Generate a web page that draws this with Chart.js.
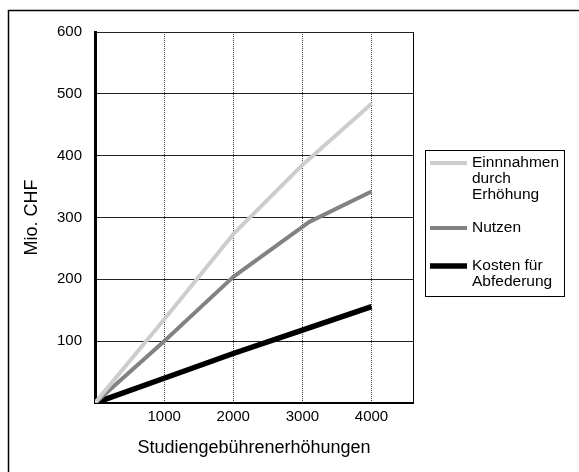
<!DOCTYPE html>
<html>
<head>
<meta charset="utf-8">
<script src="https://cdn.jsdelivr.net/npm/chart.js@4/dist/chart.umd.min.js"></script>
<style>
  html, body { margin: 0; padding: 0; background: #fff; }
  canvas { display: block; }
</style>
</head>
<body>
<canvas id="c" width="579" height="472"></canvas>
<script>
// Fee increases (CHF) and the resulting amounts in Mio. CHF
const feeSteps = [0, 1000, 2000, 3000, 4000];
const einnahmen = [0, 135, 273, 385, 484];
const nutzenSteps = [0, 1000, 2000, 3100, 4000];
const nutzen = [0, 100, 204, 293, 342];
const kosten = [0, 40, 80, 118, 156];

const xTickValues = [1000, 2000, 3000, 4000];
const yTickValues = [100, 200, 300, 400, 500, 600];

const seriesLabels = ['Einnnahmen\ndurch\nErhöhung', 'Nutzen', 'Kosten für\nAbfederung'];

const FONT = '"Liberation Sans", Arial, sans-serif';

function pairs(xs, ys) {
  return xs.map((x, i) => ({ x: x, y: ys[i] }));
}

// white page with a frame along the top and left edges
const framePlugin = {
  id: 'frame',
  beforeDraw(chart) {
    const ctx = chart.ctx;
    ctx.save();
    ctx.fillStyle = '#fff';
    ctx.fillRect(0, 0, chart.width, chart.height);
    ctx.strokeStyle = '#000';
    ctx.lineWidth = 1.5;
    ctx.beginPath();
    ctx.moveTo(8.5, chart.height + 2);
    ctx.lineTo(8.5, 10.5);
    ctx.lineTo(chart.width + 2, 10.5);
    ctx.stroke();
    ctx.restore();
  },
  beforeDatasetsDraw(chart) {
    // thin closing line on the right of the plot area
    const ctx = chart.ctx;
    const a = chart.chartArea;
    const xr = Math.round(chart.scales.x.getPixelForValue(chart.scales.x.max)) + 0.5;
    ctx.save();
    ctx.strokeStyle = '#000';
    ctx.lineWidth = 1;
    ctx.beginPath();
    ctx.moveTo(xr, a.top);
    ctx.lineTo(xr, a.bottom);
    ctx.stroke();
    ctx.restore();
  }
};

// boxed legend on the right with multi-line entries
const boxLegend = {
  id: 'boxLegend',
  afterDraw(chart) {
    const ctx = chart.ctx;
    const box = { x: 425.5, y: 150.5, w: 139, h: 146 };
    const rowY = [163, 228, 266];
    const lineGap = 16;
    ctx.save();
    ctx.strokeStyle = '#000';
    ctx.lineWidth = 1;
    ctx.strokeRect(box.x, box.y, box.w, box.h);
    ctx.font = '15.5px ' + FONT;
    ctx.fillStyle = '#000';
    ctx.textBaseline = 'middle';
    ctx.textAlign = 'left';
    chart.data.datasets.forEach((ds, i) => {
      const y = rowY[i];
      ctx.strokeStyle = ds.borderColor;
      ctx.lineWidth = ds.borderWidth;
      ctx.lineCap = 'butt';
      ctx.beginPath();
      ctx.moveTo(430, y);
      ctx.lineTo(467, y);
      ctx.stroke();
      ds.label.split('\n').forEach((line, k) => {
        ctx.fillText(line, 472, y + k * lineGap);
      });
    });
    ctx.restore();
  }
};

new Chart(document.getElementById('c'), {
  type: 'line',
  data: {
    datasets: [
      {
        label: seriesLabels[0],
        data: pairs(feeSteps, einnahmen),
        borderColor: '#cdcdcd',
        borderWidth: 4
      },
      {
        label: seriesLabels[1],
        data: pairs(nutzenSteps, nutzen),
        borderColor: '#828282',
        borderWidth: 4
      },
      {
        label: seriesLabels[2],
        data: pairs(feeSteps, kosten),
        borderColor: '#000000',
        borderWidth: 5.5
      }
    ]
  },
  options: {
    responsive: false,
    animation: false,
    devicePixelRatio: 1,
    layout: { padding: { left: 0, top: 32, right: 166, bottom: 0 } },
    elements: {
      point: { radius: 0, hoverRadius: 0 },
      line: { tension: 0, borderCapStyle: 'butt', borderJoinStyle: 'round', fill: false }
    },
    plugins: {
      legend: { display: false },
      tooltip: { enabled: false }
    },
    scales: {
      x: {
        type: 'linear',
        min: 0,
        max: 4600,
        afterFit(scale) { scale.height = 69; },
        afterBuildTicks(scale) {
          scale.ticks = [0].concat(xTickValues).map(v => ({ value: v }));
        },
        ticks: {
          padding: 5,
          color: '#000',
          font: { family: FONT, size: 15 },
          maxRotation: 0,
          callback: v => (v === 0 ? '' : String(v))
        },
        grid: {
          drawTicks: false,
          lineWidth: 1,
          color: ctx => (ctx.tick && ctx.tick.value === 0 ? 'rgba(0,0,0,0)' : '#3a3a3a')
        },
        border: { display: true, color: '#000', width: 2, dash: [1, 1] },
        title: {
          display: true,
          text: 'Studiengebührenerhöhungen',
          color: '#000',
          font: { family: FONT, size: 18 },
          padding: { top: 0, bottom: 13 }
        }
      },
      y: {
        min: 0,
        max: 600,
        afterFit(scale) { scale.width = 95; },
        afterBuildTicks(scale) {
          scale.ticks = [0].concat(yTickValues).map(v => ({ value: v }));
        },
        ticks: {
          padding: 13,
          color: '#000',
          font: { family: FONT, size: 15 },
          callback: v => (v === 0 ? '' : String(v))
        },
        grid: {
          drawTicks: false,
          lineWidth: 1,
          color: ctx => (ctx.tick && ctx.tick.value === 0 ? 'rgba(0,0,0,0)' : '#222')
        },
        border: { display: true, color: '#000', width: 3 },
        title: {
          display: true,
          text: 'Mio. CHF',
          color: '#000',
          font: { family: FONT, size: 18 },
          padding: { top: 21, bottom: 0 }
        }
      }
    }
  },
  plugins: [framePlugin, boxLegend]
});
</script>
</body>
</html>
